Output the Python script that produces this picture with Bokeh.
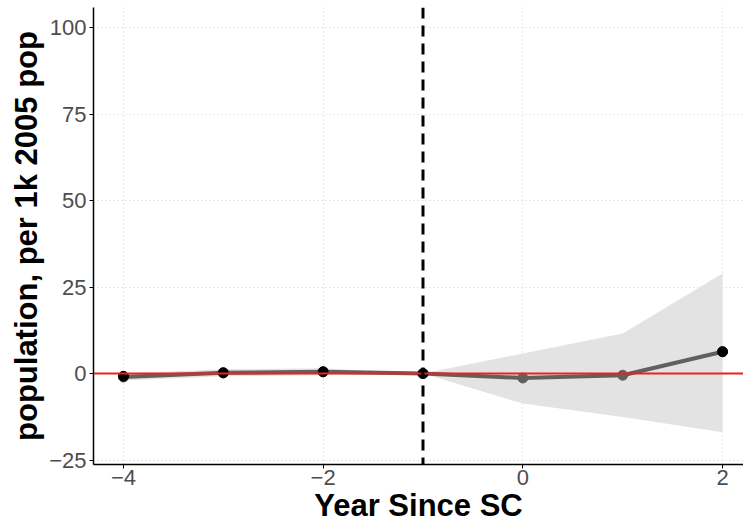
from bokeh.plotting import figure
from bokeh.models import ColumnDataSource, FixedTicker, Span, Range1d
from bokeh.embed import file_html
from bokeh.resources import INLINE

# Event-time estimates with confidence band
years = [-4, -3, -2, -1, 0, 1, 2]
estimate = [-1.0, 0.2, 0.5, 0.0, -1.3, -0.5, 6.3]
ci_lower = [-2.0, -0.8, -0.5, 0.0, -8.7, -12.6, -17.0]
ci_upper = [0.0, 1.2, 1.5, 0.0, 5.8, 11.6, 28.9]

# Points drawn in black
black_years = [-4, -3, -2, -1, 2]
black_values = [-0.8, 0.2, 0.5, 0.0, 6.3]

x_ticks = [-4, -2, 0, 2]
y_ticks = [-25, 0, 25, 50, 75, 100]

src = ColumnDataSource(dict(x=years, y=estimate, lo=ci_lower, hi=ci_upper))
src_black = ColumnDataSource(dict(x=black_years, y=black_values))

p = figure(width=743, height=527, output_backend="svg", toolbar_location=None,
           x_range=Range1d(-4.3, 2.21), y_range=Range1d(-26.3, 105.8),
           min_border_left=93, min_border_right=0, min_border_top=7, min_border_bottom=63)
p.outline_line_color = None
p.background_fill_color = "white"
p.border_fill_color = "white"

p.varea(x="x", y1="lo", y2="hi", source=src, fill_color="#e3e3e3")
p.line(x="x", y="y", source=src, line_color="#606060", line_width=4)
p.scatter(x="x", y="y", source=src, size=10, fill_color="#606060", line_color="#606060")
p.scatter(x="x", y="y", source=src_black, size=10, fill_color="black", line_color="black")

p.add_layout(Span(location=0, dimension="width", line_color="#ee2020", line_width=2))
p.add_layout(Span(location=-1, dimension="height", line_color="black", line_width=3,
                  line_dash="11 7"))

minus = "\u2212"
p.xaxis.ticker = FixedTicker(ticks=x_ticks)
p.yaxis.ticker = FixedTicker(ticks=y_ticks)
p.xaxis.major_label_overrides = {t: (minus + str(-t) if t < 0 else str(t)) for t in x_ticks}
p.yaxis.major_label_overrides = {t: (minus + str(-t) if t < 0 else str(t)) for t in y_ticks}

for ax in (p.xaxis, p.yaxis):
    ax.axis_line_color = "black"
    ax.axis_line_width = 1.5
    ax.major_tick_line_color = "black"
    ax.major_tick_out = 4
    ax.major_tick_in = 0
    ax.minor_tick_line_color = None
    ax.major_label_text_font = "Liberation Sans"
    ax.major_label_text_font_size = "22px"
    ax.major_label_text_color = "#4d4d4d"
    ax.axis_label_text_font = "Liberation Sans"
    ax.axis_label_text_font_style = "bold"
    ax.axis_label_text_font_size = "31px"
    ax.axis_label_text_color = "black"

p.xaxis.axis_label = "Year Since SC"
p.yaxis.axis_label = "population, per 1k 2005 pop"
p.xaxis.major_label_standoff = 1
p.yaxis.major_label_standoff = 3
p.xaxis.axis_label_standoff = 0
p.yaxis.axis_label_standoff = 2

for g in (p.xgrid, p.ygrid):
    g.grid_line_color = "#d0d0d0"
    g.grid_line_dash = "1 3"
    g.grid_line_width = 1

open("out.html", "w").write(file_html(p, INLINE))
